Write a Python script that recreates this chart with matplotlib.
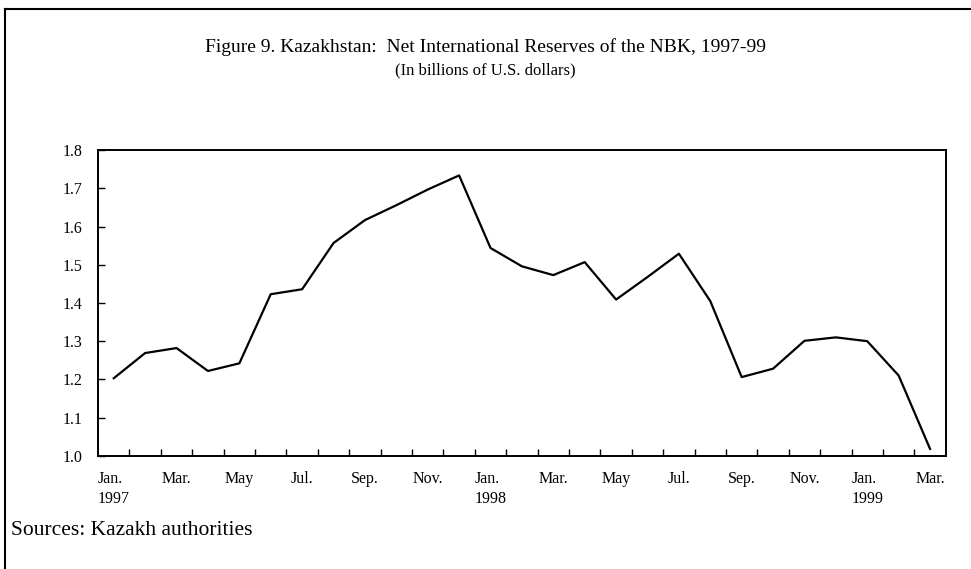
import numpy as np
import matplotlib
matplotlib.use('Agg')
import matplotlib.pyplot as plt

# monthly net international reserves, Jan 1997 - Mar 1999 (billions of US$)
months = ["Jan", "Feb", "Mar", "Apr", "May", "Jun", "Jul", "Aug", "Sep", "Oct", "Nov", "Dec",
          "Jan", "Feb", "Mar", "Apr", "May", "Jun", "Jul", "Aug", "Sep", "Oct", "Nov", "Dec",
          "Jan", "Feb", "Mar"]
reserves = [1.203, 1.269, 1.282, 1.222, 1.242, 1.423, 1.436, 1.557, 1.617, 1.656, 1.697, 1.734,
            1.544, 1.496, 1.473, 1.507, 1.409, 1.468, 1.529, 1.405, 1.206, 1.228, 1.301, 1.310,
            1.300, 1.210, 1.018]
tick_labels = ["Jan.\n1997", "Mar.", "May", "Jul.", "Sep.", "Nov.", "Jan.\n1998", "Mar.",
               "May", "Jul.", "Sep.", "Nov.", "Jan.\n1999", "Mar."]
y_ticks = [1.0, 1.1, 1.2, 1.3, 1.4, 1.5, 1.6, 1.7, 1.8]

plt.rcParams['font.family'] = ['Liberation Serif', 'DejaVu Serif']

fig = plt.figure(figsize=(9.71, 5.69), dpi=100)
ax = fig.add_axes([0.101, 0.199, 0.873, 0.537])

x = np.arange(len(reserves))
ax.plot(x, reserves, color='black', lw=1.6)

ax.set_xlim(-0.5, len(reserves) - 0.5)
ax.set_ylim(1.0, 1.8)

# labels every second month, ticks between months
ax.set_xticks(x[::2])
ax.set_xticklabels(tick_labels, ha='center', multialignment='left')
for lab in ax.get_xticklabels():
    lab.set_linespacing(1.3)
ax.set_xticks(np.arange(0.5, len(reserves) - 1, 1.0), minor=True)
ax.tick_params(axis='x', which='major', length=0, pad=11, labelsize=11.5)
ax.tick_params(axis='x', which='minor', direction='in', length=5, width=1)

ax.set_yticks(y_ticks)
ax.set_yticklabels([f"{v:.1f}" for v in y_ticks])
ax.tick_params(axis='y', direction='in', length=5, width=1, pad=11, labelsize=11.5)

for s in ax.spines.values():
    s.set_linewidth(1.4)

fig.text(0.5, 0.917, "Figure 9. Kazakhstan:  Net International Reserves of the NBK, 1997-99",
         ha='center', va='center', fontsize=14)
fig.text(0.5, 0.876, "(In billions of U.S. dollars)", ha='center', va='center', fontsize=12)
fig.text(0.011, 0.068, "Sources: Kazakh authorities", ha='left', va='center', fontsize=15.5)

# outer frame: top and left lines
fig.add_artist(plt.Line2D([0.005, 1.0], [0.985, 0.985], color='black', lw=1.5,
                          transform=fig.transFigure))
fig.add_artist(plt.Line2D([0.005, 0.005], [0.0, 0.985], color='black', lw=1.5,
                          transform=fig.transFigure))

fig.savefig('out.png', dpi=100)
